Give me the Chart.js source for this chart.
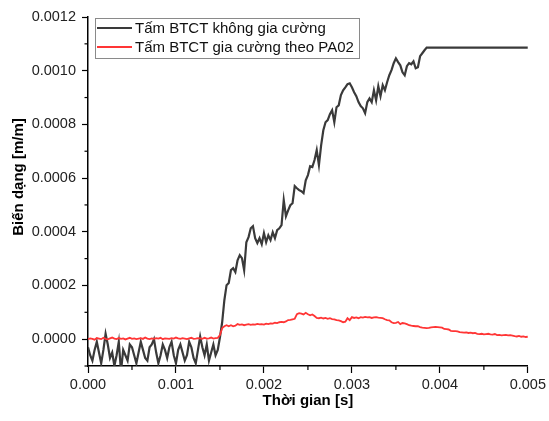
<!DOCTYPE html>
<html><head><meta charset="utf-8">
<script src="https://cdn.jsdelivr.net/npm/chart.js@4.4.1/dist/chart.umd.min.js"></script>
<style>html,body{margin:0;padding:0;background:#fff}#wrap{width:549px;height:421px;position:relative}</style>
</head><body><div id="wrap"><canvas id="c" width="549" height="421"></canvas></div>
<script>
const seriesNames = ['Tấm BTCT không gia cường', 'Tấm BTCT gia cường theo PA02'];
const xTitle = 'Thời gian [s]';
const yTitle = 'Biến dạng [m/m]';
const timeStep = 0.000025; // sampling interval of the record, 201 samples 0 .. 0.005 s

const blackStrain = [
-3e-5,-6e-5,-8e-5,-4e-5,-1e-5,-5e-5,-9e-5,-4e-5,2e-5,-2e-5,
-7e-5,-5e-5,-10e-5,-6e-5,-1e-5,-12e-5,-4e-5,-6e-5,-8e-5,-2e-5,
-3e-5,-6e-5,-9e-5,-5e-5,-1e-5,-4e-5,-7e-5,-8e-5,-3e-5,-2e-5,
0,-5e-5,-9e-5,-6e-5,-2e-5,-4e-5,-7e-5,-3e-5,-1e-5,-6e-5,
-9e-5,-4e-5,-2e-5,-5e-5,-8e-5,-6e-5,-1e-5,-3e-5,-7e-5,-9e-5,
-4e-5,1e-5,-3e-5,-6e-5,-2e-5,-8e-5,-5e-5,-2e-5,-6e-5,-4e-5,
0.7e-5,6.3e-5,14.5e-5,20.1e-5,20.9e-5,25.7e-5,26.4e-5,25e-5,29.4e-5,31.3e-5,
30.2e-5,25.7e-5,36.1e-5,38e-5,41.3e-5,42.1e-5,37.6e-5,35.8e-5,37.6e-5,35.4e-5,
39.5e-5,36.1e-5,38.7e-5,36.9e-5,39.8e-5,37.6e-5,40.6e-5,41.3e-5,42.5e-5,51.8e-5,
45.8e-5,48e-5,49.9e-5,50.6e-5,57e-5,56.2e-5,55.5e-5,55.1e-5,54.4e-5,59.2e-5,
61.1e-5,64.4e-5,64.1e-5,66.7e-5,70.4e-5,64.8e-5,72.2e-5,77.8e-5,80.8e-5,81.6e-5,
83.8e-5,85.3e-5,80.8e-5,86.4e-5,87.1e-5,90.9e-5,92.7e-5,93.8e-5,95e-5,95.3e-5,
93.8e-5,92e-5,90.5e-5,88.3e-5,86.8e-5,86e-5,84.2e-5,88.3e-5,89.7e-5,88.3e-5,
92.7e-5,89e-5,94.2e-5,90.5e-5,94.6e-5,92.7e-5,95.7e-5,98.3e-5,100.2e-5,102.8e-5,
104.6e-5,103.2e-5,102e-5,99.4e-5,98.3e-5,101.7e-5,102.8e-5,102.4e-5,103.5e-5,100.9e-5,
101.3e-5,105.4e-5,106.5e-5,107.6e-5,108.6e-5,108.6e-5,108.6e-5,108.6e-5,108.6e-5,108.6e-5,
108.6e-5,108.6e-5,108.6e-5,108.6e-5,108.6e-5,108.6e-5,108.6e-5,108.6e-5,108.6e-5,108.6e-5,
108.6e-5,108.6e-5,108.6e-5,108.6e-5,108.6e-5,108.6e-5,108.6e-5,108.6e-5,108.6e-5,108.6e-5,
108.6e-5,108.6e-5,108.6e-5,108.6e-5,108.6e-5,108.6e-5,108.6e-5,108.6e-5,108.6e-5,108.6e-5,
108.6e-5,108.6e-5,108.6e-5,108.6e-5,108.6e-5,108.6e-5,108.6e-5,108.6e-5,108.6e-5,108.6e-5,
108.6e-5
];

const redStrain = [
0,0.3e-5,0.1e-5,-0.2e-5,0.4e-5,0.2e-5,0,0.5e-5,0.1e-5,-0.1e-5,
0.3e-5,0.6e-5,0.2e-5,0,0.4e-5,0.1e-5,0.3e-5,-0.1e-5,0.2e-5,0.5e-5,
0.1e-5,0.3e-5,0,0.2e-5,0.4e-5,0.1e-5,0.6e-5,0.2e-5,0,0.3e-5,
0.1e-5,0.4e-5,0.2e-5,0.5e-5,0,0.3e-5,0.2e-5,0.1e-5,0.4e-5,0.2e-5,
0.6e-5,0.3e-5,0.1e-5,0.4e-5,0.2e-5,0,0.3e-5,0.5e-5,0.1e-5,0.2e-5,
0.4e-5,0.3e-5,0.1e-5,0.5e-5,0.2e-5,0.3e-5,0.6e-5,0.2e-5,0.4e-5,0.5e-5,
1.5e-5,4.1e-5,4.8e-5,5.2e-5,4.8e-5,5.2e-5,4.8e-5,5e-5,5.6e-5,5.3e-5,
5.5e-5,5.2e-5,5.4e-5,5.6e-5,5.3e-5,5.5e-5,5.4e-5,5.7e-5,5.5e-5,5.6e-5,
5.4e-5,5.8e-5,5.6e-5,5.9e-5,5.8e-5,6.1e-5,6.0e-5,6.3e-5,6.4e-5,6.3e-5,
6.6e-5,7.1e-5,7.2e-5,7.4e-5,7.6e-5,9.3e-5,9.7e-5,9.5e-5,9.2e-5,9.8e-5,
9.3e-5,8.9e-5,9.2e-5,8.6e-5,7.9e-5,7.8e-5,8.0e-5,7.7e-5,7.9e-5,7.6e-5,
7.8e-5,7.5e-5,7.4e-5,7.1e-5,7.0e-5,6.7e-5,6.3e-5,6.5e-5,7.8e-5,7.1e-5,
8.2e-5,7.9e-5,8.1e-5,7.8e-5,8.2e-5,8.0e-5,8.3e-5,8.1e-5,8.2e-5,7.9e-5,
8.1e-5,8.2e-5,8.0e-5,7.9e-5,7.8e-5,7.4e-5,7.1e-5,7.0e-5,6.3e-5,6.0e-5,
6.1e-5,6.4e-5,5.6e-5,6.0e-5,5.9e-5,5.6e-5,5.2e-5,5.0e-5,4.9e-5,4.8e-5,
4.8e-5,4.5e-5,4.3e-5,4.2e-5,4.1e-5,4.2e-5,4.4e-5,4.5e-5,4.6e-5,4.5e-5,
4.4e-5,4.3e-5,3.8e-5,3.7e-5,3.6e-5,3.1e-5,3.0e-5,3.0e-5,2.9e-5,2.6e-5,
2.5e-5,2.4e-5,2.5e-5,2.3e-5,2.4e-5,2.2e-5,2.3e-5,2.0e-5,1.9e-5,2.0e-5,
1.8e-5,1.9e-5,2.0e-5,1.8e-5,1.7e-5,1.9e-5,1.5e-5,1.6e-5,1.4e-5,1.5e-5,
1.6e-5,1.4e-5,1.5e-5,1.3e-5,1.1e-5,1.0e-5,1.2e-5,0.9e-5,1.0e-5,0.8e-5,
0.9e-5
];

const xMajorTicks = [0, 0.001, 0.002, 0.003, 0.004, 0.005];
const xTickLabels = ['0.000', '0.001', '0.002', '0.003', '0.004', '0.005'];
const xMinorTicks = [0.0005, 0.0015, 0.0025, 0.0035, 0.0045];
const yMajorTicks = [0, 0.0002, 0.0004, 0.0006, 0.0008, 0.0010, 0.0012];
const yTickLabels = ['0.0000', '0.0002', '0.0004', '0.0006', '0.0008', '0.0010', '0.0012'];
const yMinorTicks = [-0.0001, 0.0001, 0.0003, 0.0005, 0.0007, 0.0009, 0.0011];

const seriesColors = ['#3a3a3a', '#ff3535'];
const FONT = "'Liberation Sans', Arial, sans-serif";

const time = blackStrain.map((_, i) => i * timeStep);
const toPoints = arr => arr.map((v, i) => ({ x: time[i], y: v }));

const near = (a, b) => Math.abs(a - b) < 1e-9;
const majorIndex = (list, v) => list.findIndex(m => near(m, v));

const overlayPlugin = {
  id: 'overlay',
  afterDraw(chart) {
    const ctx = chart.ctx;
    const xs = chart.scales.x, ys = chart.scales.y;
    const a = chart.chartArea;
    ctx.save();
    ctx.strokeStyle = '#000';
    ctx.lineWidth = 1.2;
    yMinorTicks.forEach(v => {
      const p = ys.getPixelForValue(v);
      ctx.beginPath(); ctx.moveTo(a.left - 3.5, p); ctx.lineTo(a.left, p); ctx.stroke();
    });
    xMinorTicks.forEach(v => {
      const p = xs.getPixelForValue(v);
      ctx.beginPath(); ctx.moveTo(p, a.bottom); ctx.lineTo(p, a.bottom + 4); ctx.stroke();
    });
    ctx.fillStyle = '#000';
    ctx.font = 'bold 15px ' + FONT;
    ctx.textAlign = 'center';
    ctx.textBaseline = 'middle';
    ctx.translate(19, 177);
    ctx.rotate(-Math.PI / 2);
    ctx.fillText(yTitle, 0, 0);
    ctx.restore();

    ctx.save();
    const lx = 95.5, ly = 18.5, lw = 264, lh = 40;
    ctx.fillStyle = '#fff';
    ctx.fillRect(lx, ly, lw, lh);
    ctx.strokeStyle = '#8a8a8a';
    ctx.lineWidth = 1;
    ctx.strokeRect(lx, ly, lw, lh);
    ctx.font = '15px ' + FONT;
    ctx.textAlign = 'left';
    ctx.textBaseline = 'middle';
    chart.data.datasets.forEach((ds, i) => {
      const yy = 28 + i * 19;
      ctx.strokeStyle = ds.borderColor;
      ctx.lineWidth = 2;
      ctx.beginPath(); ctx.moveTo(97, yy); ctx.lineTo(132, yy); ctx.stroke();
      ctx.fillStyle = '#111';
      ctx.fillText(ds.label, 135, yy + 0.5);
    });
    ctx.restore();
  }
};

new Chart(document.getElementById('c'), {
  type: 'line',
  data: {
    datasets: [
      { label: seriesNames[0], data: toPoints(blackStrain), borderColor: seriesColors[0], borderWidth: 2.2, pointRadius: 0, tension: 0, order: 2 },
      { label: seriesNames[1], data: toPoints(redStrain), borderColor: seriesColors[1], borderWidth: 1.8, pointRadius: 0, tension: 0, order: 1 }
    ]
  },
  options: {
    responsive: false,
    animation: false,
    devicePixelRatio: 1,
    layout: { padding: { left: 0, top: 17, right: 19, bottom: 0 } },
    plugins: { legend: { display: false }, tooltip: { enabled: false } },
    scales: {
      x: {
        type: 'linear', min: 0, max: 0.005,
        afterBuildTicks: s => { s.ticks = xMajorTicks.concat(xMinorTicks).sort((p, q) => p - q).map(v => ({ value: v })); },
        afterFit: s => { s.height = 55; },
        ticks: {
          autoSkip: false, maxRotation: 0, padding: 3, color: '#222',
          font: { family: FONT, size: 14.5 },
          callback: v => { const k = majorIndex(xMajorTicks, v); return k >= 0 ? xTickLabels[k] : ''; }
        },
        grid: {
          drawOnChartArea: false, tickLength: 7, tickWidth: 1.2,
          tickColor: c => majorIndex(xMajorTicks, c.tick.value) >= 0 ? '#000' : 'rgba(0,0,0,0)'
        },
        border: { display: true, color: '#000', width: 1.5 },
        title: { display: true, text: xTitle, color: '#000', font: { family: FONT, size: 15, weight: 'bold' }, padding: { top: 0, bottom: 11 } }
      },
      y: {
        type: 'linear', min: -0.0001, max: 0.0012,
        afterBuildTicks: s => { s.ticks = yMajorTicks.concat(yMinorTicks).sort((p, q) => p - q).map(v => ({ value: v })); },
        afterFit: s => { s.width = 88; },
        ticks: {
          autoSkip: false, padding: 6, color: '#222',
          font: { family: FONT, size: 14.5 },
          callback: v => { const k = majorIndex(yMajorTicks, v); return k >= 0 ? yTickLabels[k] : ''; }
        },
        grid: {
          drawOnChartArea: false, tickLength: 6, tickWidth: 1.2,
          tickColor: c => majorIndex(yMajorTicks, c.tick.value) >= 0 ? '#000' : 'rgba(0,0,0,0)'
        },
        border: { display: true, color: '#000', width: 1.5 },
        title: { display: false }
      }
    }
  },
  plugins: [overlayPlugin]
});
</script>
</body></html>
